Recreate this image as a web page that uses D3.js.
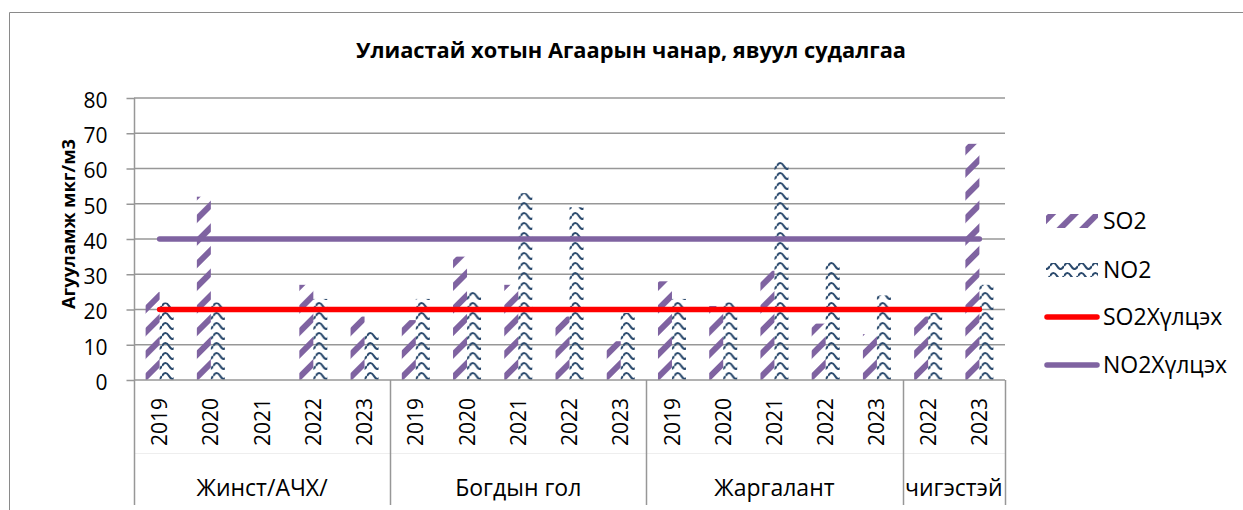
<!DOCTYPE html>
<html>
<head>
<meta charset="utf-8">
<script src="https://cdn.jsdelivr.net/npm/d3@7"></script>
<style>
  body { margin: 0; background: #fff; }
  text { font-family: "Open Sans", sans-serif; fill: #000; }
</style>
</head>
<body>
<script>
// data
var years = ["2019", "2020", "2021", "2022", "2023",
             "2019", "2020", "2021", "2022", "2023",
             "2019", "2020", "2021", "2022", "2023",
             "2022", "2023"];
var stations = ["Жинст/АЧХ/", "Жинст/АЧХ/", "Жинст/АЧХ/", "Жинст/АЧХ/", "Жинст/АЧХ/",
                "Богдын гол", "Богдын гол", "Богдын гол", "Богдын гол", "Богдын гол",
                "Жаргалант", "Жаргалант", "Жаргалант", "Жаргалант", "Жаргалант",
                "чигэстэй", "чигэстэй"];
var so2 = [25, 52, null, 27, 18, 17, 35, 27, 18, 11, 28, 21, 31, 16, 13, 18, 67];
var no2 = [22, 22, null, 23, 14, 23, 25, 53, 49, 19, 23, 22, 62, 34, 24, 19, 27];
var so2Limit = [20, 20, 20, 20, 20, 20, 20, 20, 20, 20, 20, 20, 20, 20, 20, 20, 20];
var no2Limit = [40, 40, 40, 40, 40, 40, 40, 40, 40, 40, 40, 40, 40, 40, 40, 40, 40];
var yTicks = [0, 10, 20, 30, 40, 50, 60, 70, 80];

function makechart() {
    var width = 1243, height = 510;
    var left = 134, right = 1005, plotTop = 98, plotBottom = 380;
    var purple = "#7f63a1", navy = "#2b4a6d", red = "#ff0000", grid = "#979797";

    var svg = d3.select("body").append("svg")
        .attr("width", width)
        .attr("height", height);

    svg.append("rect").attr("width", width).attr("height", height).attr("fill", "#fff");

    // excel-like fill patterns
    var defs = svg.append("defs");
    defs.append("pattern")
        .attr("id", "wideUp")
        .attr("patternUnits", "userSpaceOnUse")
        .attr("width", 16).attr("height", 16)
        .attr("patternTransform", "rotate(45)")
      .append("rect")
        .attr("width", 6).attr("height", 16)
        .attr("fill", purple);
    defs.append("pattern")
        .attr("id", "wave")
        .attr("patternUnits", "userSpaceOnUse")
        .attr("width", 14).attr("height", 10)
      .append("path")
        .attr("d", "M0,6 Q3.5,0 7,6 T14,6")
        .attr("fill", "none")
        .attr("stroke", navy)
        .attr("stroke-width", 2.2);

    // outer frame
    svg.append("path")
        .attr("d", "M9.5,510 V12.5 H1243")
        .attr("fill", "none")
        .attr("stroke", "#8a8a8a");

    var n = years.length;
    var x0 = d3.scaleBand().domain(d3.range(n)).range([left, right]);
    var x1 = d3.scaleBand().domain(["SO2", "NO2"]).range([0, x0.bandwidth()]).paddingOuter(0.83);
    var y = d3.scaleLinear().domain([0, 80]).range([plotBottom, plotTop]);

    // gridlines
    svg.append("g").selectAll("line")
        .data(yTicks.slice(1))
        .enter().append("line")
        .attr("x1", left).attr("x2", right)
        .attr("y1", d => y(d)).attr("y2", d => y(d))
        .attr("stroke", grid).attr("stroke-width", 1.5);

    // y axis
    var yAxis = svg.append("g")
        .attr("transform", "translate(" + (left + 0.5) + ",0)")
        .call(d3.axisLeft(y).tickValues(yTicks).tickSize(8).tickPadding(19));
    yAxis.select(".domain").remove();
    yAxis.selectAll(".tick line").attr("stroke", grid).attr("stroke-width", 1.5);
    yAxis.selectAll(".tick text")
        .style("font-family", "Open Sans")
        .style("font-size", "21px")
        .attr("dy", "0.45em");

    // bars
    var cats = svg.append("g").selectAll("g")
        .data(d3.range(n))
        .enter().append("g")
        .attr("transform", i => "translate(" + x0(i) + ",0)");

    cats.filter(i => so2[i] != null).append("rect")
        .attr("x", x1("SO2"))
        .attr("width", x1.bandwidth())
        .attr("y", i => y(so2[i]))
        .attr("height", i => y(0) - y(so2[i]))
        .attr("fill", "url(#wideUp)");

    cats.filter(i => no2[i] != null).append("rect")
        .attr("x", x1("NO2"))
        .attr("width", x1.bandwidth())
        .attr("y", i => y(no2[i]))
        .attr("height", i => y(0) - y(no2[i]))
        .attr("fill", "url(#wave)");

    // category axis
    var axisG = svg.append("g");
    axisG.append("line")
        .attr("x1", left).attr("x2", right)
        .attr("y1", plotBottom).attr("y2", plotBottom)
        .attr("stroke", grid).attr("stroke-width", 1.5);
    axisG.append("line")
        .attr("x1", left + 0.5).attr("x2", left + 0.5)
        .attr("y1", plotTop).attr("y2", plotBottom)
        .attr("stroke", grid).attr("stroke-width", 1.5);
    axisG.append("line")
        .attr("x1", left).attr("x2", right)
        .attr("y1", 453.5).attr("y2", 453.5)
        .attr("stroke", "#eeeeee");

    // group runs of stations
    var groups = [];
    stations.forEach(function (s, i) {
        if (!groups.length || groups[groups.length - 1].name !== s) groups.push({name: s, start: i, end: i});
        else groups[groups.length - 1].end = i;
    });
    var edges = [left].concat(groups.map(g => x0(g.end) + x0.step()));
    axisG.selectAll(".sep")
        .data(edges)
        .enter().append("line")
        .attr("x1", d => Math.round(d) + 0.5).attr("x2", d => Math.round(d) + 0.5)
        .attr("y1", plotBottom).attr("y2", 505)
        .attr("stroke", grid).attr("stroke-width", 1.5);

    axisG.selectAll(".year")
        .data(years)
        .enter().append("text")
        .attr("transform", (d, i) => "translate(" + (x0(i) + x0.bandwidth() / 2) + ",398) rotate(-90)")
        .attr("text-anchor", "end")
        .attr("dy", "0.36em")
        .style("font-size", "21px")
        .text(d => d);

    axisG.selectAll(".grp")
        .data(groups)
        .enter().append("text")
        .attr("x", g => (x0(g.start) + x0(g.end) + x0.step()) / 2)
        .attr("y", 496)
        .attr("text-anchor", "middle")
        .style("font-size", "23px")
        .text(g => g.name);

    // threshold lines
    var line = d3.line()
        .x((d, i) => x0(i) + x0.bandwidth() / 2)
        .y(d => y(d));
    svg.append("path").datum(so2Limit)
        .attr("d", line).attr("fill", "none")
        .attr("stroke", red).attr("stroke-width", 5.5).attr("stroke-linecap", "round");
    svg.append("path").datum(no2Limit)
        .attr("d", line).attr("fill", "none")
        .attr("stroke", purple).attr("stroke-width", 5.5).attr("stroke-linecap", "round");

    // titles
    svg.append("text")
        .attr("x", 631).attr("y", 58)
        .attr("text-anchor", "middle")
        .style("font-size", "21.8px").style("font-weight", "bold")
        .text("Улиастай хотын Агаарын чанар, явуул судалгаа");
    svg.append("text")
        .attr("transform", "translate(68,224) rotate(-90)")
        .attr("text-anchor", "middle")
        .attr("dy", "0.36em")
        .style("font-size", "18.3px").style("font-weight", "bold")
        .text("Агууламж мкг/м3");

    // legend
    var legend = [
        {name: "SO2", type: "bar", fill: "url(#wideUp)", y: 221},
        {name: "NO2", type: "bar", fill: "url(#wave)", y: 270},
        {name: "SO2Хүлцэх", type: "line", stroke: red, y: 317},
        {name: "NO2Хүлцэх", type: "line", stroke: purple, y: 365}
    ];
    var lg = svg.append("g").selectAll("g")
        .data(legend)
        .enter().append("g")
        .attr("transform", d => "translate(0," + d.y + ")");
    lg.filter(d => d.type === "bar").append("rect")
        .attr("x", 1046).attr("y", -7).attr("width", 52).attr("height", 14)
        .attr("fill", d => d.fill);
    lg.filter(d => d.type === "line").append("line")
        .attr("x1", 1047).attr("x2", 1097)
        .attr("stroke", d => d.stroke).attr("stroke-width", 5.5).attr("stroke-linecap", "round");
    lg.append("text")
        .attr("x", 1103)
        .attr("dy", "0.36em")
        .style("font-size", "23px")
        .text(d => d.name);
}

makechart();
</script>
</body>
</html>
